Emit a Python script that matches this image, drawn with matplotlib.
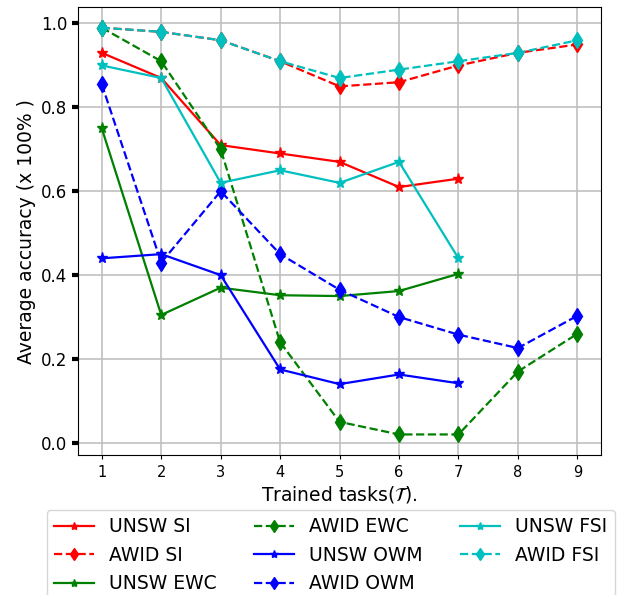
import numpy as np
import matplotlib
matplotlib.use('Agg')
import matplotlib.pyplot as plt

# Daten
tasks_unsw = [1, 2, 3, 4, 5, 6, 7]
tasks_awid = [1, 2, 3, 4, 5, 6, 7, 8, 9]

unsw_si = [0.93, 0.87, 0.71, 0.69, 0.67, 0.61, 0.63]
awid_si = [0.99, 0.98, 0.96, 0.91, 0.85, 0.86, 0.90, 0.93, 0.95]
unsw_ewc = [0.75, 0.305, 0.37, 0.352, 0.35, 0.362, 0.403]
awid_ewc = [0.99, 0.91, 0.70, 0.24, 0.05, 0.02, 0.02, 0.17, 0.26]
unsw_owm = [0.44, 0.45, 0.40, 0.175, 0.14, 0.163, 0.142]
awid_owm = [0.855, 0.43, 0.60, 0.45, 0.365, 0.30, 0.258, 0.226, 0.303]
unsw_fsi = [0.90, 0.87, 0.62, 0.65, 0.62, 0.67, 0.44]
awid_fsi = [0.99, 0.98, 0.96, 0.91, 0.87, 0.89, 0.91, 0.93, 0.96]

fig = plt.figure(figsize=(6.21, 5.95), dpi=100)
ax = fig.add_axes([0.1256, 0.2353, 0.8424, 0.7527])

lw = 1.6
ms = 8
ax.plot(tasks_unsw, unsw_si, color='red', linestyle='-', marker='*', lw=lw, ms=ms, label='UNSW SI')
ax.plot(tasks_awid, awid_si, color='red', linestyle='--', marker='d', lw=lw, ms=ms, label='AWID SI')
ax.plot(tasks_unsw, unsw_ewc, color='green', linestyle='-', marker='*', lw=lw, ms=ms, label='UNSW EWC')
ax.plot(tasks_awid, awid_ewc, color='green', linestyle='--', marker='d', lw=lw, ms=ms, label='AWID EWC')
ax.plot(tasks_unsw, unsw_owm, color='blue', linestyle='-', marker='*', lw=lw, ms=ms, label='UNSW OWM')
ax.plot(tasks_awid, awid_owm, color='blue', linestyle='--', marker='d', lw=lw, ms=ms, label='AWID OWM')
ax.plot(tasks_unsw, unsw_fsi, color='c', linestyle='-', marker='*', lw=lw, ms=ms, label='UNSW FSI')
ax.plot(tasks_awid, awid_fsi, color='c', linestyle='--', marker='d', lw=lw, ms=ms, label='AWID FSI')

# Achsen
ax.set_xlim(0.6, 9.4)
ax.set_ylim(-0.029, 1.039)
ax.set_xticks(tasks_awid)
ax.set_yticks([0.0, 0.2, 0.4, 0.6, 0.8, 1.0])
ax.tick_params(axis='x', length=3, width=0.8, labelsize=10.5, pad=4)
ax.tick_params(axis='y', length=4, width=3, labelsize=12)
ax.grid(True, color='#c0c0c0', linewidth=1.2)
ax.set_axisbelow(True)

ax.set_xlabel(r'Trained tasks($\mathcal{T}$).', fontsize=13.5, labelpad=3)
ax.set_ylabel('Average accuracy (x 100% )', fontsize=13.5)

fig.legend(loc='upper left', bbox_to_anchor=(46.5 / 621, 1 - 510 / 595), ncol=3,
           borderaxespad=0, fontsize=13.5, frameon=True, fancybox=True,
           edgecolor='#cccccc', handlelength=2.15, handletextpad=0.78,
           columnspacing=2.0, markerscale=0.75)

plt.savefig('out.png', dpi=100)
plt.close()
